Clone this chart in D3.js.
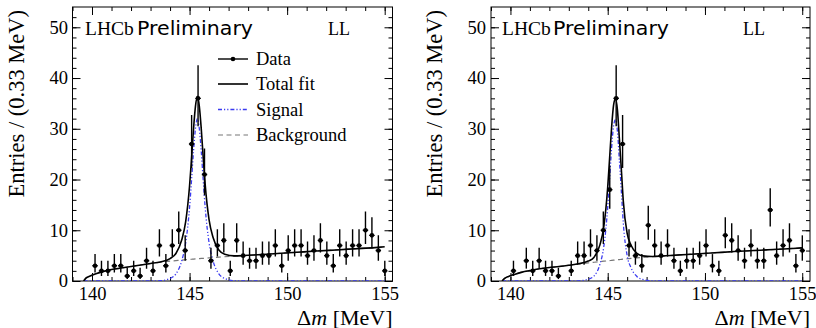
<!DOCTYPE html>
<html>
<head>
<meta charset="utf-8">
<script src="https://cdn.jsdelivr.net/npm/d3@7"></script>
<style>
  body { margin: 0; background: #fff; }
  svg text { font-family: "Liberation Serif", "Times New Roman", serif; fill: #000; }
</style>
</head>
<body>
<svg id="chart" width="816" height="328"></svg>
<script>
// bin centres, 0.33 MeV bins starting at 139.0
const binCenters = [139.165, 139.495, 139.825, 140.155, 140.485, 140.815, 141.145, 141.475, 141.805, 142.135,
  142.465, 142.795, 143.125, 143.455, 143.785, 144.115, 144.445, 144.775, 145.105, 145.435,
  145.765, 146.095, 146.425, 146.755, 147.085, 147.415, 147.745, 148.075, 148.405, 148.735,
  149.065, 149.395, 149.725, 150.055, 150.385, 150.715, 151.045, 151.375, 151.705, 152.035,
  152.365, 152.695, 153.025, 153.355, 153.685, 154.015, 154.345, 154.675, 155.005, 155.335];
const binWidth = 0.33;

// entries per bin, left plot and right plot
const countsLeft = [0, 0, 0, 3, 2, 2, 3, 3, 1, 2,
  1, 4, 2, 7, 3, 7, 10, 6, 27, 36,
  21, 4, 7, 8, 2, 8, 5, 4, 4, 5,
  5, 7, 3, 6, 7, 7, 5, 6, 8, 5,
  3, 7, 5, 7, 7, 10, 9, 6, 2, 0];
const countsRight = [0, 0, 0, 2, 0, 4, 2, 4, 2, 2,
  1, 0, 2, 5, 5, 7, 6, 10, 18, 36,
  27, 7, 5, 3, 11, 7, 5, 7, 4, 2,
  4, 4, 5, 7, 3, 2, 9, 8, 6, 4,
  7, 4, 4, 14, 5, 7, 8, 3, 6, 0];

// fit curves
const fitMass = [139.57, 139.7, 139.9, 140.2, 140.6, 141.0, 141.5, 142.0, 142.5, 143.0,
  143.5, 144.0, 144.3, 144.6, 144.8, 145.0, 145.1, 145.2, 145.3, 145.4,
  145.5, 145.6, 145.7, 145.8, 146.0, 146.2, 146.5, 146.8, 147.3, 147.8,
  148.5, 149.5, 150.5, 151.5, 152.5, 153.5, 154.5, 155.0];

const signalLeft = [0, 0, 0, 0, 0, 0, 0, 0, 0, 0,
  0.06, 0.5, 1.4, 4.0, 7.5, 14.5, 19.8, 25.5, 30, 32,
  30, 25.5, 19.8, 14.5, 7.5, 4.0, 1.4, 0.5, 0.06, 0,
  0, 0, 0, 0, 0, 0, 0, 0];
const backgroundLeft = [0, 0.6, 1.0, 1.45, 1.9, 2.25, 2.55, 2.85, 3.15, 3.45,
  3.7, 3.92, 4.02, 4.12, 4.19, 4.26, 4.29, 4.32, 4.35, 4.38,
  4.41, 4.44, 4.47, 4.5, 4.56, 4.62, 4.7, 4.78, 4.9, 5.02,
  5.18, 5.42, 5.66, 5.9, 6.12, 6.35, 6.58, 6.75];
const totalLeft = [0, 0.6, 1.0, 1.45, 1.9, 2.25, 2.55, 2.85, 3.15, 3.45,
  3.76, 4.42, 5.42, 8.12, 11.69, 18.76, 24.09, 29.82, 34.35, 36.38,
  34.41, 29.94, 24.27, 19.0, 12.06, 8.62, 6.1, 5.28, 4.96, 5.02,
  5.18, 5.42, 5.66, 5.9, 6.12, 6.35, 6.58, 6.75];

const signalRight = [0, 0, 0, 0, 0, 0, 0, 0, 0, 0,
  0.04, 0.35, 1.0, 3.3, 6.8, 14.5, 20.3, 26.2, 30.5, 31.8,
  29.5, 23.8, 17.8, 11.5, 5.0, 2.6, 0.9, 0.3, 0.04, 0,
  0, 0, 0, 0, 0, 0, 0, 0];
const backgroundRight = [0, 0.5, 0.9, 1.3, 1.75, 2.05, 2.4, 2.65, 2.85, 3.1,
  3.35, 3.58, 3.7, 3.82, 3.9, 3.98, 4.02, 4.06, 4.1, 4.14,
  4.18, 4.22, 4.26, 4.3, 4.38, 4.45, 4.55, 4.65, 4.8, 4.92,
  5.1, 5.33, 5.56, 5.8, 6.0, 6.2, 6.42, 6.52];
const totalRight = [0, 0.5, 0.9, 1.3, 1.75, 2.05, 2.4, 2.65, 2.85, 3.1,
  3.39, 3.93, 4.7, 7.12, 10.7, 18.48, 24.32, 30.26, 34.6, 35.94,
  33.68, 28.02, 22.06, 15.8, 9.38, 7.05, 5.45, 4.95, 4.84, 4.92,
  5.1, 5.33, 5.56, 5.8, 6.0, 6.2, 6.42, 6.52];

const xTicks = [140, 145, 150, 155];
const yTicks = [0, 10, 20, 30, 40, 50];
const legendLabels = ['Data', 'Total fit', 'Signal', 'Background'];

const svg = d3.select('#chart');
svg.append('rect').attr('width', 816).attr('height', 328).attr('fill', '#fff');

const TOP = 7, BOTTOM = 281;
const sigColor = '#3a3af0', bkgColor = '#777';

function drawPanel(o) {
  const x = d3.scaleLinear().domain([139, 155.4]).range([o.left, o.right]);
  const y = d3.scaleLinear().domain([0, 54]).range([BOTTOM, TOP]);
  const g = svg.append('g');
  const clipId = 'clip' + o.left;
  g.append('clipPath').attr('id', clipId).append('rect')
    .attr('x', o.left).attr('y', TOP).attr('width', o.right - o.left).attr('height', BOTTOM - TOP);

  const noDomain = a => a.select('.domain').remove();
  const minorX = d3.range(139, 156, 1);
  const minorY = d3.range(0, 54, 2);

  // bottom
  g.append('g').attr('transform', `translate(0,${BOTTOM})`)
    .call(d3.axisBottom(x).tickValues(minorX).tickSize(-4).tickFormat('')).call(noDomain);
  g.append('g').attr('class', 'xax').attr('transform', `translate(0,${BOTTOM})`)
    .call(d3.axisBottom(x).tickValues(xTicks).tickSizeInner(-8).tickSizeOuter(0).tickPadding(6).tickFormat(d3.format('d')))
    .call(noDomain);
  // top
  g.append('g').attr('transform', `translate(0,${TOP})`)
    .call(d3.axisTop(x).tickValues(minorX).tickSize(-4).tickFormat('')).call(noDomain);
  g.append('g').attr('transform', `translate(0,${TOP})`)
    .call(d3.axisTop(x).tickValues(xTicks).tickSize(-8).tickFormat('')).call(noDomain);
  // left
  g.append('g').attr('transform', `translate(${o.left},0)`)
    .call(d3.axisLeft(y).tickValues(minorY).tickSize(-4).tickFormat('')).call(noDomain);
  g.append('g').attr('class', 'yax').attr('transform', `translate(${o.left},0)`)
    .call(d3.axisLeft(y).tickValues(yTicks).tickSizeInner(-8).tickSizeOuter(0).tickPadding(o.yPad).tickFormat(d3.format('d')))
    .call(noDomain);
  // right
  g.append('g').attr('transform', `translate(${o.right},0)`)
    .call(d3.axisRight(y).tickValues(minorY).tickSize(-4).tickFormat('')).call(noDomain);
  g.append('g').attr('transform', `translate(${o.right},0)`)
    .call(d3.axisRight(y).tickValues(yTicks).tickSize(-8).tickFormat('')).call(noDomain);

  g.selectAll('.tick line').attr('stroke', '#000').attr('stroke-width', 1);
  g.selectAll('.xax text, .yax text').style('font-size', '18.5px').attr('fill', '#000');

  g.append('rect').attr('x', o.left).attr('y', TOP)
    .attr('width', o.right - o.left).attr('height', BOTTOM - TOP)
    .attr('fill', 'none').attr('stroke', '#000').attr('stroke-width', 1);

  // fit curves
  const line = d3.line().x(d => x(d[0])).y(d => y(d[1])).curve(d3.curveMonotoneX);
  const plot = g.append('g').attr('clip-path', `url(#${clipId})`);
  plot.append('path').datum(fitMass.map((m, i) => [m, o.bkg[i]])).attr('d', line)
    .attr('fill', 'none').attr('stroke', bkgColor).attr('stroke-width', 1.2).attr('stroke-dasharray', '5,3.5');
  plot.append('path').datum(fitMass.map((m, i) => [m, o.sig[i]])).attr('d', line)
    .attr('fill', 'none').attr('stroke', sigColor).attr('stroke-width', 1.3).attr('stroke-dasharray', '4,2,1.2,2,1.2,2');
  plot.append('path').datum(fitMass.map((m, i) => [m, o.tot[i]])).attr('d', line)
    .attr('fill', 'none').attr('stroke', '#000').attr('stroke-width', 1.6);

  // data points with Poisson-like error bars
  const pts = binCenters.map((c, i) => ({ c, n: o.counts[i] })).filter(d => d.n > 0);
  const dg = plot.append('g').attr('stroke', '#000').attr('stroke-width', 1.4);
  dg.selectAll('line.v').data(pts).join('line').attr('class', 'v')
    .attr('x1', d => x(d.c)).attr('x2', d => x(d.c))
    .attr('y1', d => y(d.n + 0.5 - Math.sqrt(d.n + 0.25)))
    .attr('y2', d => y(d.n + 0.5 + Math.sqrt(d.n + 0.25)));
  dg.selectAll('line.h').data(pts).join('line').attr('class', 'h')
    .attr('x1', d => x(d.c - binWidth * 0.42)).attr('x2', d => x(d.c + binWidth * 0.42))
    .attr('y1', d => y(d.n)).attr('y2', d => y(d.n));
  plot.append('g').selectAll('circle').data(pts).join('circle')
    .attr('cx', d => x(d.c)).attr('cy', d => y(d.n)).attr('r', 2.3).attr('fill', '#000');

  // titles
  g.append('text').attr('transform', `translate(${o.yTitleX},10) rotate(-90)`)
    .attr('text-anchor', 'end').style('font-size', '22.5px').text('Entries / (0.33 MeV)');
  const xt = g.append('text').attr('x', o.right).attr('y', 324.5).attr('text-anchor', 'end').style('font-size', '22px');
  xt.append('tspan').text('Δ');
  xt.append('tspan').style('font-style', 'italic').text('m');
  xt.append('tspan').text(' [MeV]');

  g.append('text').attr('x', o.labelX[0]).attr('y', 35).style('font-size', '19.5px').text('LHCb');
  g.append('text').attr('x', o.labelX[1]).attr('y', 35)
    .style('font-family', '"DejaVu Sans", sans-serif').style('font-size', '19px')
    .attr('textLength', 116).attr('lengthAdjust', 'spacingAndGlyphs').text('Preliminary');
  g.append('text').attr('x', o.labelX[2]).attr('y', 35).style('font-size', '18px').text('LL');

  if (o.legend) {
    const rowsY = [59, 84, 109.5, 135];
    const styles = [
      { stroke: '#000', dash: null, w: 1.4 },
      { stroke: '#000', dash: null, w: 1.6 },
      { stroke: sigColor, dash: '4,2,1.2,2,1.2,2', w: 1.3 },
      { stroke: bkgColor, dash: '5,3.5', w: 1.2 }
    ];
    const lg = g.append('g');
    legendLabels.forEach((lab, i) => {
      lg.append('line').attr('x1', 218).attr('x2', 248).attr('y1', rowsY[i]).attr('y2', rowsY[i])
        .attr('stroke', styles[i].stroke).attr('stroke-width', styles[i].w)
        .attr('stroke-dasharray', styles[i].dash);
      if (i === 0) lg.append('circle').attr('cx', 233).attr('cy', rowsY[i]).attr('r', 2.3).attr('fill', '#000');
      lg.append('text').attr('x', 256).attr('y', rowsY[i] + 6.3).style('font-size', '18.5px').text(lab);
    });
  }
}

drawPanel({ left: 72.5, right: 392.5, yPad: 4.5, yTitleX: 24, labelX: [85, 137, 328],
  counts: countsLeft, sig: signalLeft, bkg: backgroundLeft, tot: totalLeft, legend: true });
drawPanel({ left: 491, right: 810, yPad: 5, yTitleX: 441.5, labelX: [502, 553, 743],
  counts: countsRight, sig: signalRight, bkg: backgroundRight, tot: totalRight, legend: false });
</script>
</body>
</html>
